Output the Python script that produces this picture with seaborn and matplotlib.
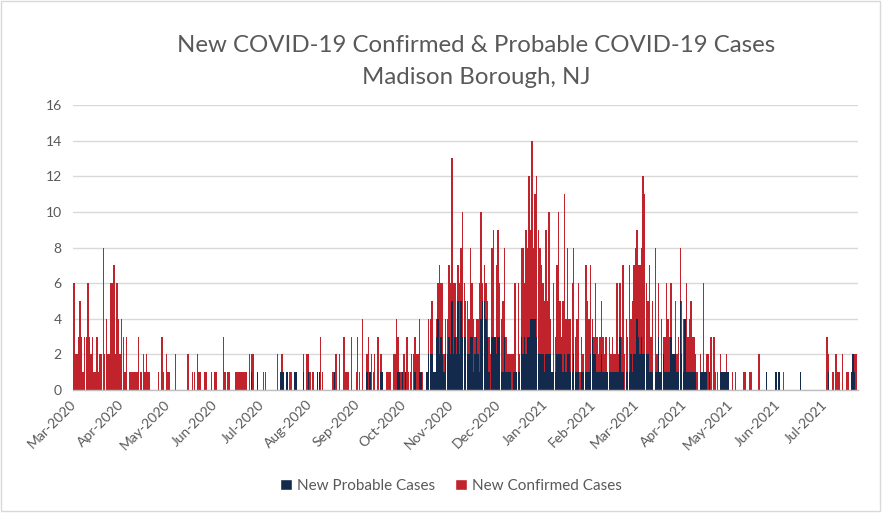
import numpy as np
import pandas as pd
import matplotlib
matplotlib.use("Agg")
import matplotlib.pyplot as plt
from matplotlib.patches import Patch, Rectangle
import seaborn as sns

# Daily counts from 2020-03-01, one line per month
probable_cases = [
    0,0,0,0,0,0,0,0,0,0,0,0,0,0,0,0,0,0,0,0,0,0,0,0,0,0,0,0,0,0,0,
    0,0,0,0,0,0,0,0,0,0,0,0,0,0,0,0,0,0,0,0,0,0,0,0,0,0,0,0,0,0,
    0,0,0,0,0,0,0,0,0,0,0,0,0,0,0,0,0,0,0,0,0,0,0,0,0,0,0,0,0,0,0,
    0,0,0,0,0,0,0,0,0,0,0,0,0,0,0,0,0,0,0,0,0,0,0,1,0,0,0,1,0,0,
    0,0,0,0,0,0,0,0,0,0,0,0,1,1,1,0,1,0,0,0,0,1,1,0,0,0,0,1,0,0,1,
    0,0,0,0,0,1,1,0,0,0,0,0,0,0,0,0,1,0,0,0,0,0,0,0,0,0,0,0,0,0,0,
    0,0,0,0,0,0,1,0,1,0,0,0,0,0,0,1,1,0,0,0,0,0,0,0,0,0,1,1,0,1,
    0,1,0,0,0,0,0,1,0,0,1,1,0,0,0,1,2,2,2,1,1,3,4,2,3,2,1,2,2,3,2,
    5,2,3,2,5,2,5,3,3,3,2,2,3,3,1,2,3,2,1,4,5,5,4,3,1,0,3,3,3,2,
    3,3,1,1,3,1,1,1,1,0,1,1,1,1,1,3,2,3,2,3,3,4,4,4,4,3,2,2,2,2,1,
    2,2,2,2,1,1,1,2,2,2,2,1,2,1,2,2,1,1,2,1,1,1,0,1,1,0,1,1,1,2,3,
    2,2,1,1,1,2,1,1,1,1,1,1,1,1,1,1,1,3,1,1,0,1,1,1,2,1,2,2,
    4,3,2,3,2,2,2,2,1,1,1,0,1,1,3,1,1,2,1,1,1,1,3,2,2,2,1,1,5,2,1,
    4,1,1,1,1,1,1,1,0,0,1,1,1,1,1,0,1,0,0,0,0,0,0,1,1,1,1,1,1,0,
    0,0,0,0,0,0,0,0,0,0,0,0,0,0,0,0,0,0,0,0,0,0,0,1,0,0,0,0,0,1,0,
    1,0,0,0,0,0,0,0,0,0,0,0,0,0,1,0,0,0,0,0,0,0,0,0,0,0,0,0,0,0,
    0,0,1,0,0,0,0,0,0,0,0,0,0,0,0,0,0,1,2,1,0,
]
confirmed_cases = [
    6,2,2,3,5,3,1,3,3,6,3,2,3,1,1,3,1,2,2,8,2,4,2,2,6,6,7,2,6,4,2,
    4,3,1,3,0,1,1,1,1,1,1,3,1,1,2,1,2,1,1,0,0,0,0,0,1,0,3,1,0,2,
    1,1,0,0,0,2,0,0,0,0,0,0,0,2,0,0,1,1,0,2,1,1,0,0,1,1,0,0,1,0,1,
    1,0,0,0,0,3,1,0,1,1,0,0,0,1,1,1,1,1,1,1,1,0,2,1,2,0,0,0,0,0,
    0,1,1,0,0,0,0,0,0,0,2,0,0,1,0,0,0,0,1,1,0,0,0,0,0,0,0,1,0,2,1,
    1,0,1,0,0,0,0,3,1,0,0,0,0,0,0,1,0,2,0,2,0,0,3,1,1,1,0,3,0,0,1,
    3,1,0,4,0,0,1,3,0,2,1,2,0,3,0,1,0,0,0,1,1,1,0,2,2,4,2,0,1,0,
    2,0,3,1,1,2,2,2,2,2,3,0,1,0,0,0,2,2,3,0,0,1,2,5,3,4,1,2,2,4,4,
    8,4,3,1,2,4,3,7,3,2,3,2,5,3,3,1,1,2,5,6,1,2,2,2,2,2,5,6,0,5,
    6,3,3,4,5,2,1,1,1,2,1,5,0,5,1,5,6,3,7,5,9,5,10,4,7,9,7,6,5,4,4,
    7,3,8,2,0,5,2,5,8,3,1,4,9,3,6,2,3,5,6,2,3,5,1,2,1,0,6,4,3,5,1,
    1,4,2,1,2,3,2,1,2,0,2,1,2,1,1,5,1,3,2,6,2,3,2,6,2,4,5,6,
    5,4,5,5,10,9,4,3,6,2,4,0,7,1,3,0,3,1,2,5,3,2,3,0,0,3,1,2,3,3,3,
    0,5,2,3,4,2,2,1,1,0,1,0,5,0,1,2,0,3,0,3,1,1,0,1,0,0,0,1,0,0,
    0,1,0,1,0,0,0,0,1,1,0,0,1,1,0,0,0,0,2,0,0,0,0,0,0,0,0,0,0,0,0,
    0,0,0,1,0,0,0,0,0,0,0,0,0,0,0,0,0,0,0,0,0,0,0,0,0,0,0,0,0,0,
    0,3,1,0,0,1,0,2,1,1,0,2,0,0,1,1,0,0,0,1,2,
]
start_date = "2020-03-01"
month_starts = pd.date_range("2020-03-01", "2021-07-01", freq="MS")
y_ticks = [0, 2, 4, 6, 8, 10, 12, 14, 16]

red = "#C0232C"
navy = "#142A4C"
grey_text = "#595959"

sns.set_style("white")
plt.rcParams["font.family"] = ["Lato", "DejaVu Sans"]

dates = pd.date_range(start_date, periods=len(confirmed_cases), freq="D")
df = pd.DataFrame({
    "day": (dates - dates[0]).days,
    "probable": probable_cases,
    "confirmed": confirmed_cases,
})
df["total"] = df["probable"] + df["confirmed"]

fig = plt.figure(figsize=(8.9, 5.21), dpi=100)
ax = fig.add_axes([0.082, 0.2514, 0.882, 0.547])

# stacked: confirmed sits on top of probable
sns.histplot(data=df, x="day", weights="total", discrete=True, shrink=0.92,
             color=red, alpha=1, linewidth=0, ax=ax)
sns.histplot(data=df, x="day", weights="probable", discrete=True, shrink=0.92,
             color=navy, alpha=1, linewidth=0, ax=ax)

ax.set_xlim(-0.6, len(df) + 0.2)
ax.set_ylim(0, 16)
ax.set_yticks(y_ticks)
ax.set_yticklabels([str(v) for v in y_ticks], color=grey_text, fontsize=10)
tick_pos = (month_starts - dates[0]).days
ax.set_xticks(tick_pos)
ax.set_xticklabels(month_starts.strftime("%b-%Y"), rotation=45, ha="right",
                   va="center", rotation_mode="anchor", color=grey_text,
                   fontsize=10)
ax.tick_params(axis="x", length=4, width=0.8, color="#BFBFBF", pad=5)
ax.tick_params(axis="y", length=0, pad=8)
ax.set_xlabel("")
ax.set_ylabel("")
ax.yaxis.grid(True, color="#D9D9D9", linewidth=1)
ax.set_axisbelow(True)
for side in ["top", "right", "left"]:
    ax.spines[side].set_visible(False)
ax.spines["bottom"].set_color("#BFBFBF")
ax.spines["bottom"].set_linewidth(1)

fig.text(0.535, 0.912, "New COVID-19 Confirmed & Probable COVID-19 Cases",
         ha="center", va="center", fontsize=17.3, color=grey_text)
fig.text(0.535, 0.852, "Madison Borough, NJ",
         ha="center", va="center", fontsize=17.3, color=grey_text)

handles = [Patch(facecolor=navy), Patch(facecolor=red)]
fig.legend(handles, ["New Probable Cases", "New Confirmed Cases"],
           loc="center", bbox_to_anchor=(0.507, 0.067), ncol=2, frameon=False,
           handlelength=0.75, handleheight=0.75, handletextpad=0.35,
           columnspacing=1.3, fontsize=11, labelcolor=grey_text)

fig.patches.append(Rectangle((0.001, 0.019), 0.988, 0.979, transform=fig.transFigure,
                             fill=False, edgecolor="#D9D9D9", linewidth=1))

fig.savefig("out.png", dpi=100)
